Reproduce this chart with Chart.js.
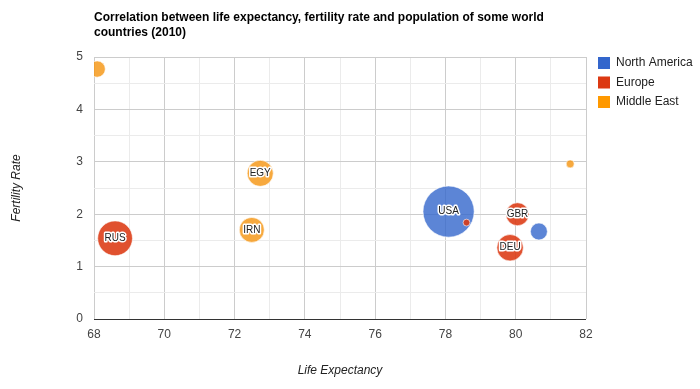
<!DOCTYPE html>
<html>
<head>
<meta charset="utf-8">
<script src="https://cdn.jsdelivr.net/npm/chart.js@4.4.0/dist/chart.umd.min.js"></script>
<style>
  html, body { margin: 0; padding: 0; background: #fff; }
</style>
</head>
<body>
<canvas id="bubbleChart" width="700" height="389"></canvas>
<script>
const countries = ["CAN", "DEU", "DNK", "EGY", "GBR", "IRN", "IRQ", "ISR", "RUS", "USA"];
const lifeExpectancy = [80.66, 79.84, 78.6, 72.73, 80.05, 72.49, 68.09, 81.55, 68.6, 78.09];
const fertilityRate = [1.67, 1.36, 1.84, 2.78, 2.0, 1.7, 4.77, 2.96, 1.54, 2.05];
const countryRegion = ["North America", "Europe", "Europe", "Middle East", "Europe", "Middle East", "Middle East", "Middle East", "Europe", "North America"];
const population = [33739900, 81902307, 5523095, 79716203, 61801570, 73137148, 31090763, 7485600, 141850000, 307007000];
const showLabel = [false, true, false, true, true, true, false, false, true, true];
const regions = ["North America", "Europe", "Middle East"];
const xTickLabels = [68, 70, 72, 74, 76, 78, 80, 82];
const yTickLabels = [0, 1, 2, 3, 4, 5];

const chartTitle = ["Correlation between life expectancy, fertility rate and population of some world", "countries (2010)"];
const xTitle = "Life Expectancy";
const yTitle = "Fertility Rate";

// Google-ish palette
const regionColors = ["#3366cc", "#dc3912", "#ff9900"];
const regionFills = ["rgba(51,102,204,0.8)", "rgba(220,57,18,0.88)", "rgba(245,150,20,0.82)"];

// bubble area follows population
const bubbleRadius = pop => 1.46 * Math.sqrt(pop / 1e6);

const datasets = regions.map((region, ri) => {
  const idx = countries.map((c, i) => i).filter(i => countryRegion[i] === region);
  return {
    label: region,
    data: idx.map(i => ({ x: lifeExpectancy[i], y: fertilityRate[i], r: bubbleRadius(population[i]), name: countries[i], showLabel: showLabel[i] })),
    backgroundColor: regionFills[ri],
    borderColor: "rgba(255,255,255,0.6)",
    borderWidth: 1,
    order: 3 - ri,
  };
});

const FONT = "Arial, 'Liberation Sans', sans-serif";

// titles, legend and bubble labels drawn by hand to match the Google layout
const extras = {
  id: "extras",
  beforeDatasetsDraw(chart) {
    // bubbles are cut at the plot edge
    const a = chart.chartArea;
    chart.ctx.save();
    chart.ctx.beginPath();
    chart.ctx.rect(a.left, a.top, a.right - a.left, a.bottom - a.top);
    chart.ctx.clip();
  },
  afterDatasetsDraw(chart) {
    const ctx = chart.ctx;
    ctx.restore();
    ctx.save();
    ctx.font = "10px " + FONT;
    ctx.textAlign = "center";
    ctx.textBaseline = "middle";
    ctx.lineJoin = "round";
    chart.data.datasets.forEach((ds, di) => {
      const meta = chart.getDatasetMeta(di);
      meta.data.forEach((el, i) => {
        const p = ds.data[i];
        if (!p.showLabel) return;
        ctx.strokeStyle = "#fff";
        ctx.lineWidth = 3;
        ctx.strokeText(p.name, el.x, el.y);
        ctx.fillStyle = "#222";
        ctx.fillText(p.name, el.x, el.y);
      });
    });
    ctx.restore();
  },
  afterDraw(chart) {
    const ctx = chart.ctx;
    const area = chart.chartArea;
    ctx.save();
    // title
    ctx.font = "bold 12px " + FONT;
    ctx.fillStyle = "#000";
    ctx.textAlign = "left";
    ctx.textBaseline = "alphabetic";
    chartTitle.forEach((line, i) => ctx.fillText(line, area.left, 21 + i * 15));
    // legend
    ctx.font = "12px " + FONT;
    ctx.textBaseline = "middle";
    regions.forEach((r, i) => {
      const y = 63 + i * 19.5;
      ctx.fillStyle = regionColors[i];
      ctx.fillRect(598, y - 6, 12, 12);
      ctx.fillStyle = "#222";
      ctx.fillText(r, 616, y);
    });
    // axis titles
    ctx.font = "italic 12px " + FONT;
    ctx.textAlign = "center";
    ctx.fillText(xTitle, 340, 371);
    ctx.translate(17, (area.top + area.bottom) / 2);
    ctx.rotate(-Math.PI / 2);
    ctx.fillText(yTitle, 0, 0);
    ctx.restore();
  }
};

new Chart(document.getElementById("bubbleChart"), {
  type: "bubble",
  data: { datasets: datasets },
  plugins: [extras],
  options: {
    responsive: false,
    animation: false,
    events: [],
    layout: { padding: { top: 57, right: 114, left: 0, bottom: 0 } },
    plugins: {
      legend: { display: false },
      title: { display: false },
      tooltip: { enabled: false },
    },
    scales: {
      x: {
        type: "linear",
        min: 68,
        max: 82,
        afterFit: s => { s.height = 70; },
        border: { display: false },
        grid: {
          drawTicks: false,
          color: c => (xTickLabels.includes(c.tick.value) ? "#cccccc" : "#ebebeb"),
        },
        ticks: {
          stepSize: 1,
          padding: 8,
          color: "#444",
          font: { family: FONT, size: 12 },
          maxRotation: 0,
          callback: v => (xTickLabels.includes(v) ? String(v) : ""),
        },
      },
      y: {
        type: "linear",
        min: 0,
        max: 5,
        afterFit: s => { s.width = 94; },
        border: { display: false },
        grid: {
          drawTicks: false,
          color: c => (c.tick.value === 0 ? "#333333" : yTickLabels.includes(c.tick.value) ? "#cccccc" : "#ebebeb"),
        },
        ticks: {
          stepSize: 0.5,
          padding: 11,
          color: "#444",
          font: { family: FONT, size: 12 },
          callback: v => (yTickLabels.includes(v) ? String(v) : ""),
        },
      },
    },
  },
});
</script>
</body>
</html>
